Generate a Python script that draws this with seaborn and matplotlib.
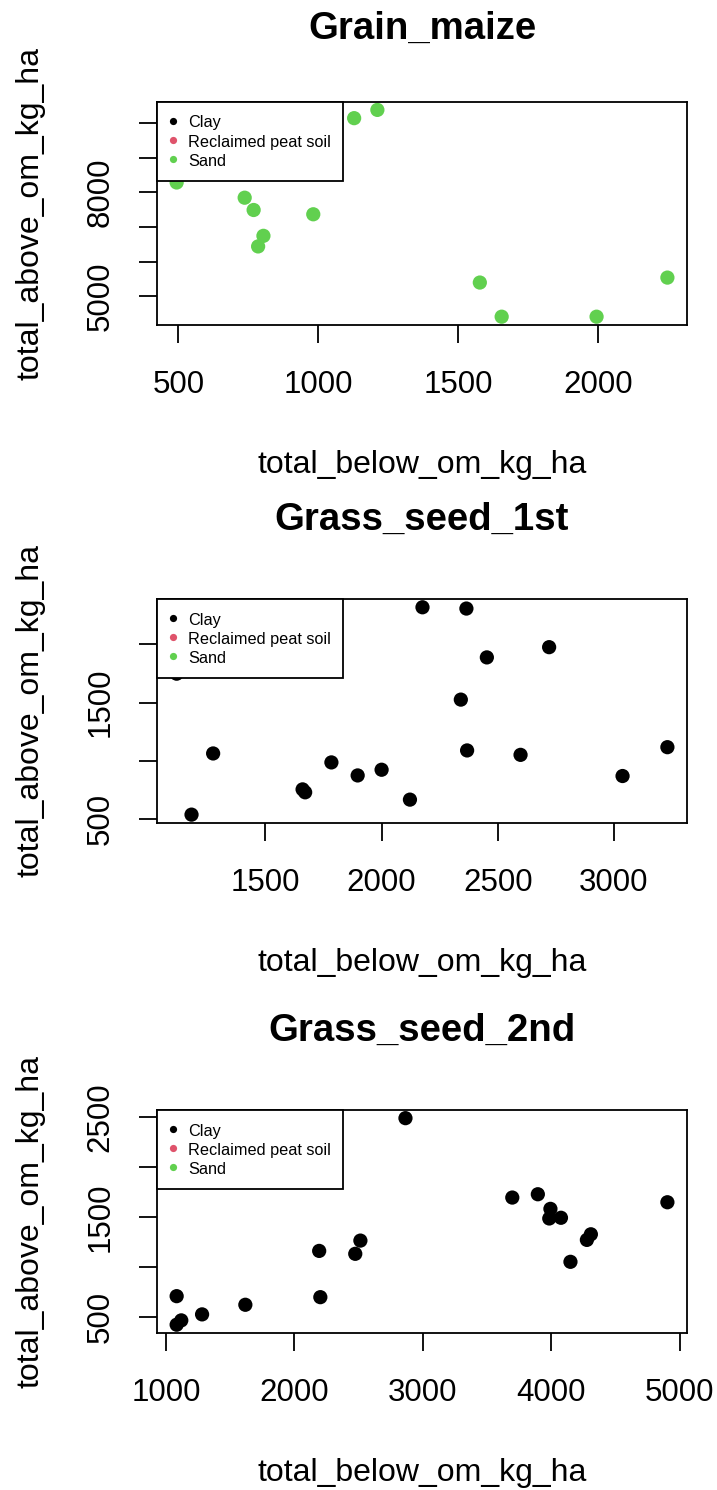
import matplotlib
matplotlib.use("Agg")
import matplotlib.pyplot as plt
from matplotlib.lines import Line2D
import pandas as pd
import seaborn as sns

sns.set_theme(style="ticks", rc={"text.color": "black", "axes.labelcolor": "black",
                                 "xtick.color": "black", "ytick.color": "black"})
plt.rcParams["font.family"] = ["Liberation Sans", "DejaVu Sans"]

SOIL_LEVELS = ["Clay", "Reclaimed peat soil", "Sand"]
SOIL_COLORS = {"Clay": "#000000", "Reclaimed peat soil": "#DF536B", "Sand": "#61D04F"}

# Grain_maize (all sand)
maize_below = [494, 737, 769, 982, 804, 785, 1128, 1211, 1577, 1655, 1994, 2247]
maize_above = [8285, 7845, 7490, 7366, 6743, 6437, 10144, 10383, 5393, 4406, 4406, 5536]
maize_soil = ["Sand"] * len(maize_below)

# Grass_seed_1st (all clay)
gs1_below = [1118, 1182, 1275, 1660, 1671, 1784, 1897, 2000, 2122, 2176,
             2365, 2341, 2368, 2453, 2598, 2721, 3037, 3230]
gs1_above = [1749, 537, 1063, 754, 729, 986, 874, 923, 666, 2320,
             2309, 1526, 1089, 1889, 1051, 1977, 869, 1117]
gs1_soil = ["Clay"] * len(gs1_below)

# Grass_seed_2nd (all clay)
gs2_below = [1083, 1083, 1119, 1281, 1618, 2193, 2202, 2474, 2514, 2865,
             3697, 3896, 3994, 3985, 4076, 4150, 4278, 4309, 4905]
gs2_above = [712, 427, 470, 530, 626, 1164, 702, 1135, 1267, 2490,
             1697, 1730, 1584, 1488, 1495, 1055, 1274, 1330, 1650]
gs2_soil = ["Clay"] * len(gs2_below)

# axis ticks; empty strings where R drops an overlapping label
maize_xticks = [500, 1000, 1500, 2000]
maize_yticks = [5000, 6000, 7000, 8000, 9000, 10000]
maize_ylabels = ["5000", "", "", "8000", "", ""]
gs1_xticks = [1500, 2000, 2500, 3000]
gs1_yticks = [500, 1000, 1500, 2000]
gs1_ylabels = ["500", "", "1500", ""]
gs2_xticks = [1000, 2000, 3000, 4000, 5000]
gs2_yticks = [500, 1000, 1500, 2000, 2500]
gs2_ylabels = ["500", "", "1500", "", "2500"]

panels = [
    ("Grain_maize", maize_below, maize_above, maize_soil,
     maize_xticks, maize_yticks, maize_ylabels, [0.2190, 0.7819, 0.7392, 0.1499], 45),
    ("Grass_seed_1st", gs1_below, gs1_above, gs1_soil,
     gs1_xticks, gs1_yticks, gs1_ylabels, [0.2190, 0.4477, 0.7392, 0.1503], 49.5),
    ("Grass_seed_2nd", gs2_below, gs2_above, gs2_soil,
     gs2_xticks, gs2_yticks, gs2_ylabels, [0.2190, 0.1054, 0.7392, 0.1497], 49.5),
]


def r_limits(vals):
    # R pads the data range by 4% on each side
    lo, hi = min(vals), max(vals)
    pad = 0.04 * (hi - lo)
    return lo - pad, hi + pad


fig = plt.figure(figsize=(7.17, 14.9), dpi=100)

for title, below, above, soil, xt, yt, ylab, rect, tpad in panels:
    ax = fig.add_axes(rect)
    df = pd.DataFrame({"total_below_om_kg_ha": below,
                       "total_above_om_kg_ha": above,
                       "soil": soil})
    sns.scatterplot(data=df, x="total_below_om_kg_ha", y="total_above_om_kg_ha",
                    hue="soil", hue_order=SOIL_LEVELS, palette=SOIL_COLORS,
                    s=105, edgecolor="none", legend=False, ax=ax)
    ax.set_xlim(*r_limits(below))
    ax.set_ylim(*r_limits(above))

    ax.set_xticks(xt)
    ax.set_xticklabels([str(v) for v in xt])
    ax.set_yticks(yt)
    ax.set_yticklabels(ylab)
    ax.tick_params(length=13.3, width=1.3, labelsize=22.5, pad=16.5,
                   color="black", labelcolor="black", direction="out")
    ax.tick_params(axis="x", pad=19)
    for lab in ax.get_yticklabels():
        lab.set_rotation(90)
        lab.set_va("center")

    for sp in ax.spines.values():
        sp.set_visible(True)
        sp.set_color("black")
        sp.set_linewidth(1.3)

    ax.set_title(title, fontsize=27.6, fontweight="bold", pad=tpad, color="black")
    ax.set_xlabel("total_below_om_kg_ha", fontsize=23, color="black")
    ax.set_ylabel("total_above_om_kg_ha", fontsize=23, color="black")
    ax.xaxis.set_label_coords(0.5, -0.56)
    ax.yaxis.set_label_coords(-0.21, 0.5)

    handles = [Line2D([], [], marker="o", linestyle="", color=SOIL_COLORS[s],
                      markersize=5.2, markeredgewidth=0) for s in SOIL_LEVELS]
    leg = ax.legend(handles, SOIL_LEVELS, loc="upper left", borderaxespad=0,
                    frameon=True, fancybox=False, framealpha=1, edgecolor="black",
                    fontsize=11.7, handlelength=0.45, handleheight=1.17,
                    handletextpad=0.7, labelspacing=0.15, borderpad=0.75)
    leg.get_frame().set_linewidth(1.3)

fig.savefig("out.png", dpi=100)
